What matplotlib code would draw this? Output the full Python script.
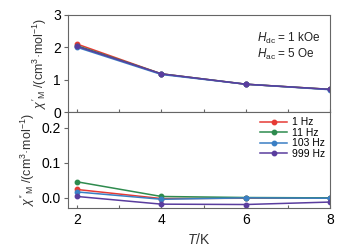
import matplotlib.pyplot as plt

plt.rcParams['font.family'] = ['Liberation Sans', 'DejaVu Sans']
plt.rcParams['mathtext.fontset'] = 'custom'
plt.rcParams['mathtext.rm'] = 'Liberation Sans'
plt.rcParams['mathtext.it'] = 'Liberation Sans:italic'

T = [2, 4, 6, 8]
labels = ['1 Hz', '11 Hz', '103 Hz', '999 Hz']
colors = ['#e63a35', '#2e8b4e', '#3a7fc4', '#5a3d9e']

# chi' (in-phase)
chi1 = [
    [2.10, 1.18, 0.86, 0.70],
    [2.05, 1.18, 0.86, 0.70],
    [2.00, 1.16, 0.86, 0.69],
    [2.03, 1.18, 0.86, 0.70],
]
# chi'' (out-of-phase)
chi2 = [
    [0.023, -0.003, -0.002, -0.002],
    [0.045, 0.003, 0.000, -0.001],
    [0.016, -0.005, -0.001, -0.002],
    [0.003, -0.019, -0.020, -0.013],
]

fig = plt.figure(figsize=(3.48, 2.5), dpi=100)
ax1 = fig.add_axes([0.195, 0.552, 0.753, 0.388])
ax2 = fig.add_axes([0.195, 0.168, 0.753, 0.384])

for i in range(4):
    ax1.plot(T, chi1[i], '-o', color=colors[i], lw=1.1, ms=3.2, label=labels[i])
    ax2.plot(T, chi2[i], '-o', color=colors[i], lw=1.1, ms=3.2, label=labels[i])

for ax in (ax1, ax2):
    ax.set_xlim(1.78, 8)
    ax.set_xticks([2, 3, 4, 5, 6, 7, 8])
    for s in ax.spines.values():
        s.set_color('#666666')
        s.set_linewidth(0.8)
    ax.tick_params(axis='y', direction='out', length=3, color='#666666', labelsize=10, pad=2)
    ax.tick_params(axis='x', direction='in', length=2.5, color='#666666', labelsize=10)

ax1.set_ylim(0, 3)
ax1.set_yticks([0, 1, 2, 3])
ax1.tick_params(axis='x', labelbottom=False)
ax1.set_ylabel(r"$\chi'_{\rm M}$ /(cm$^{3}$·mol$^{-1}$)", fontsize=9, color='#333333', labelpad=3)
ax1.text(0.72, 0.72, r"$H_{\rm dc}$ = 1 kOe", transform=ax1.transAxes, fontsize=8.5, color='#222222')
ax1.text(0.72, 0.56, r"$H_{\rm ac}$ = 5 Oe", transform=ax1.transAxes, fontsize=8.5, color='#222222')

ax2.set_ylim(-0.03, 0.245)
ax2.set_yticks([0.0, 0.1, 0.2])
ax2.set_yticklabels(['0.0', '0.1', '0.2'])
ax2.set_xticklabels(['2', '', '4', '', '6', '', '8'])
ax2.set_ylabel(r"$\chi''_{\rm M}$ /(cm$^{3}$·mol$^{-1}$)", fontsize=9, color='#333333', labelpad=3)
ax2.set_xlabel(r"$T$/K", fontsize=10, color='#333333')
ax2.legend(loc='upper right', frameon=False, fontsize=7.5, handlelength=2.6,
           labelspacing=0.05, borderaxespad=0.1, handletextpad=0.4)

fig.savefig('out.png', dpi=100)
